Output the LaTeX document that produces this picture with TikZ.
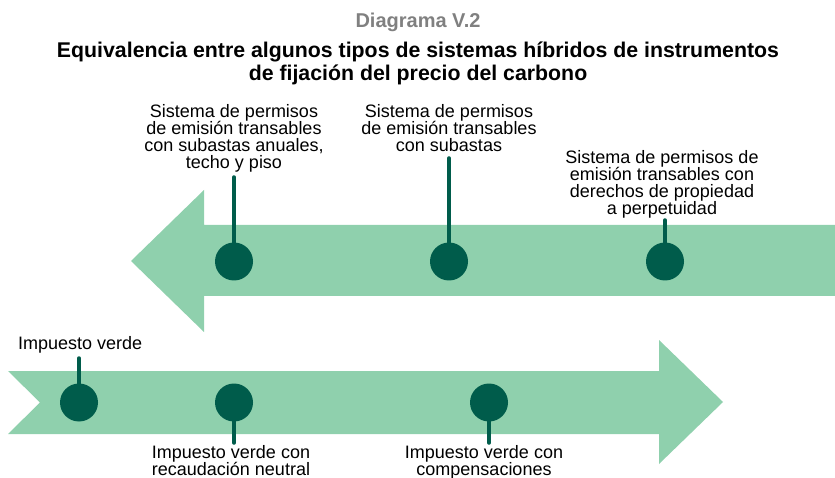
\documentclass[tikz,border=0pt]{standalone}
\usepackage{fontspec}
\setmainfont{Liberation Sans}
\definecolor{lightg}{RGB}{143,208,173}
\definecolor{darkg}{RGB}{0,92,75}
\definecolor{titlegray}{RGB}{128,128,128}
\begin{document}
\begin{tikzpicture}[x=1pt,y=-1pt,
  band/.style={fill=lightg, draw=none},
  dot/.style={circle, fill=darkg, minimum size=38pt, inner sep=0pt},
  stem/.style={draw=darkg, line width=3.5pt, line cap=round},
  lbl/.style={align=center, inner sep=0pt, font=\fontsize{18}{17}\selectfont, anchor=base},
  ttl/.style={align=center, inner sep=0pt, font=\bfseries\fontsize{21.3}{23}\selectfont, anchor=base}]
\useasboundingbox (0,0) rectangle (835,478);
% titles
\node[ttl, text=titlegray, font=\bfseries\fontsize{20}{23}\selectfont] (sup) at (418,28) {Diagrama V.2};
\node[ttl] (title) at (418,81) {Equivalencia entre algunos tipos de sistemas híbridos de instrumentos\\de fijación del precio del carbono};
% arrows
\fill[band] (131,261) -- (204,190) -- (204,225) -- (835,225) -- (835,296) -- (204,296) -- (204,332) -- cycle;
\fill[band] (8,371) -- (659,371) -- (659,340) -- (723,402) -- (659,464) -- (659,434) -- (8,434) -- (40,402.5) -- cycle;
% labels (base = baseline of the last line)
\node[lbl] (t1) at (234,168.5) {Sistema de permisos\\de emisión transables\\con subastas anuales,\\techo y piso};
\node[lbl] (t2) at (449,151.5) {Sistema de permisos\\de emisión transables\\con subastas};
\node[lbl] (t3) at (662,214.5) {Sistema de permisos de\\emisión transables con\\derechos de propiedad\\a perpetuidad};
\node[lbl, anchor=base west] (t4) at (18,349) {Impuesto verde};
\node[lbl] (t5) at (231,475) {Impuesto verde con\\recaudación neutral};
\node[lbl] (t6) at (484,475) {Impuesto verde con\\compensaciones};
% stem ends
\coordinate (s1) at (234,177);
\coordinate (s2) at (449,158);
\coordinate (s3) at (665,220);
\coordinate (s4) at (79,358);
\coordinate (s5) at (234,443);
\coordinate (s6) at (489,443);
% dots
\node[dot] (c1) at (234,261.5) {};
\node[dot] (c2) at (449,261.5) {};
\node[dot] (c3) at (665,261.5) {};
\node[dot] (c4) at (79,402.5) {};
\node[dot] (c5) at (234,402.5) {};
\node[dot] (c6) at (489,402.5) {};
% stems
\draw[stem] (c1) -- (s1);
\draw[stem] (c2) -- (s2);
\draw[stem] (c3) -- (s3);
\draw[stem] (c4) -- (s4);
\draw[stem] (c5) -- (s5);
\draw[stem] (c6) -- (s6);
\end{tikzpicture}
\end{document}
